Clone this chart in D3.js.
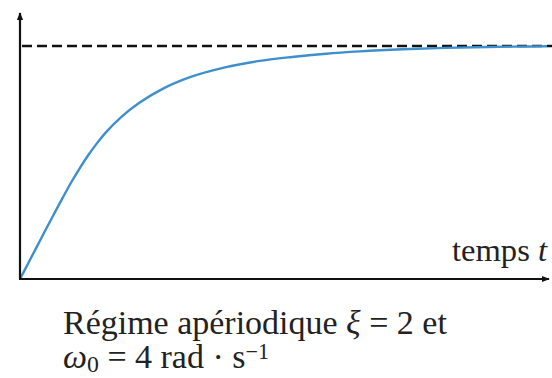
<!DOCTYPE html>
<html>
<head>
<meta charset="utf-8">
<script src="https://cdn.jsdelivr.net/npm/d3@7/dist/d3.min.js"></script>
<style>
html,body{margin:0;padding:0;background:#fff;}
svg{display:block;}
</style>
</head>
<body>
<svg id="chart" width="552" height="378"></svg>
<script>
// Data (time in s, normalised response)
const times  = [0, 0.1, 0.2, 0.3, 0.4, 0.5, 0.6, 0.7, 0.8, 0.9, 1.0, 1.2, 1.4, 1.7, 2.0, 2.4, 2.8, 3.2, 3.6, 4.0, 4.5, 5.0, 5.5, 6.0, 6.2];
const values = [0, 0.07, 0.14, 0.21, 0.279, 0.347, 0.413, 0.474, 0.53, 0.58, 0.625, 0.698, 0.755, 0.82, 0.866, 0.907, 0.935, 0.953, 0.967, 0.977, 0.986, 0.992, 0.996, 0.998, 0.999];
const asymptote = 1;
const xLabel = "temps ";
const xLabelVar = "t";
const captionLine1 = "Régime apériodique ";
const captionVar1 = "ξ";
const captionRest1 = " = 2 et";

const svg = d3.select("#chart");
const x = d3.scaleLinear().domain([0, 6.2]).range([20, 547]);
const y = d3.scaleLinear().domain([0, 1]).range([279, 46]);

// arrow marker
const defs = svg.append("defs");
defs.append("marker").attr("id","arr").attr("viewBox","0 0 10 10")
  .attr("refX",9).attr("refY",5).attr("markerWidth",8).attr("markerHeight",8)
  .attr("markerUnits","userSpaceOnUse").attr("orient","auto")
  .append("path").attr("d","M0,1 L10,5 L0,9 z").attr("fill","#111");

// dashed asymptote
svg.append("line")
  .attr("x1", x(0) + 2).attr("x2", 552)
  .attr("y1", y(asymptote)).attr("y2", y(asymptote))
  .attr("stroke","#111").attr("stroke-width",2.4)
  .attr("stroke-dasharray","10,5");

// curve
const line = d3.line().x((d,i)=>x(times[i])).y(d=>y(d)).curve(d3.curveMonotoneX);
svg.append("path").datum(values)
  .attr("d", line).attr("fill","none")
  .attr("stroke","#3d8fcd").attr("stroke-width",2.4);

// axes
svg.append("line").attr("x1",x(0)).attr("y1",y(0)).attr("x2",x(0)).attr("y2",13)
  .attr("stroke","#111").attr("stroke-width",2.2).attr("marker-end","url(#arr)");
svg.append("line").attr("x1",x(0)-1).attr("y1",y(0)).attr("x2",549).attr("y2",y(0))
  .attr("stroke","#111").attr("stroke-width",2.2).attr("marker-end","url(#arr)");

const font = "'Liberation Serif', 'DejaVu Serif', serif";
const col = "#222";

// x label
const xl = svg.append("text").attr("x",452).attr("y",261)
  .attr("font-family",font).attr("font-size",26).attr("fill",col);
const xt = xl.append("tspan").text(xLabel);
xl.append("tspan").attr("font-style","italic").text(xLabelVar);
const wl = xt.node().getComputedTextLength();
xl.attr("font-size", 26 * 86 / wl);

// caption
const c1 = svg.append("text").attr("x",63).attr("y",334)
  .attr("font-family",font).attr("font-size",27).attr("fill",col);
c1.append("tspan").text(captionLine1);
c1.append("tspan").attr("font-style","italic").text(captionVar1);
c1.append("tspan").text(captionRest1);
const w1 = c1.node().getComputedTextLength();
const fs = 27 * 384 / w1;
c1.attr("font-size", fs);

const c2 = svg.append("text").attr("x",63).attr("y",368)
  .attr("font-family",font).attr("font-size",fs).attr("fill",col);
c2.append("tspan").attr("font-style","italic").text("ω");
c2.append("tspan").attr("font-size",fs*0.7).attr("dy",4).text("0");
c2.append("tspan").attr("dy",-4).text(" = 4 rad · s");
c2.append("tspan").attr("font-size",fs*0.65).attr("dy",-9).text("−1");
</script>
</body>
</html>
